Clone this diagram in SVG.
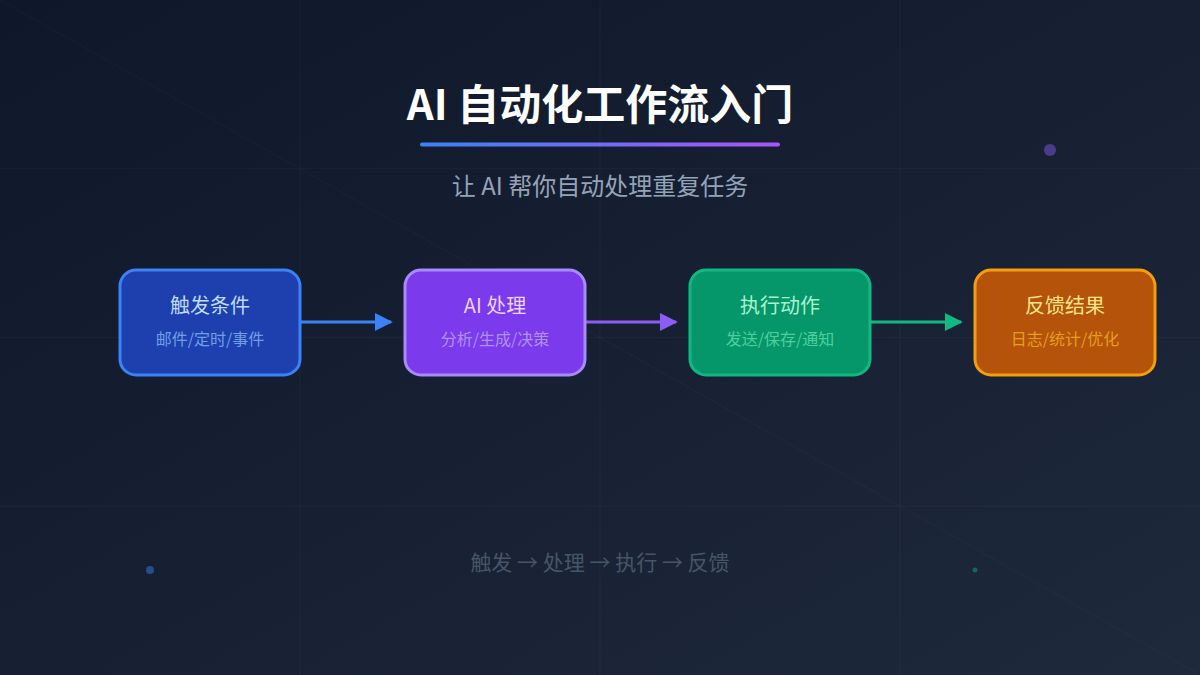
<svg xmlns="http://www.w3.org/2000/svg" width="1200" height="675" viewBox="0 0 1200 675">
  <defs>
    <linearGradient id="bg" x1="0" y1="0" x2="1" y2="1">
      <stop offset="0" stop-color="#0f172a"/>
      <stop offset="1" stop-color="#1e293b"/>
    </linearGradient>
    <linearGradient id="bar" x1="0" y1="0" x2="1" y2="0">
      <stop offset="0" stop-color="#3b82f6"/>
      <stop offset="1" stop-color="#a855f7"/>
    </linearGradient>
    <marker id="ah-blue" viewBox="0 0 10 10" refX="9" refY="5" markerWidth="6" markerHeight="6.4" orient="auto" markerUnits="strokeWidth">
      <path d="M0,0 L10,5 L0,10 Z" fill="#3b82f6"/>
    </marker>
    <marker id="ah-purple" viewBox="0 0 10 10" refX="9" refY="5" markerWidth="6" markerHeight="6.4" orient="auto" markerUnits="strokeWidth">
      <path d="M0,0 L10,5 L0,10 Z" fill="#8b5cf6"/>
    </marker>
    <marker id="ah-green" viewBox="0 0 10 10" refX="9" refY="5" markerWidth="6" markerHeight="6.4" orient="auto" markerUnits="strokeWidth">
      <path d="M0,0 L10,5 L0,10 Z" fill="#10b981"/>
    </marker>
  </defs>
  <style>
    text { font-family: "Noto Sans CJK SC", "Noto Sans", sans-serif; text-anchor: middle; }
    .grid { stroke: #ffffff; stroke-opacity: 0.03; stroke-width: 1; }
    .title { font-size: 42px; font-weight: 700; fill: #ffffff; }
    .subtitle { font-size: 24px; fill: #94a3b8; }
    .ntitle { font-size: 20px; }
    .nsub { font-size: 16px; opacity: 0.7; }
    .box { stroke-width: 3; }
    .conn { stroke-width: 3; fill: none; }
    .foot { font-size: 21px; fill: #475569; }
  </style>
  <rect x="0" y="0" width="1200" height="675" fill="url(#bg)"/>
  <g id="grid">
    <line class="grid" x1="300" y1="0" x2="300" y2="675"/>
    <line class="grid" x1="600" y1="0" x2="600" y2="675"/>
    <line class="grid" x1="900" y1="0" x2="900" y2="675"/>
    <line class="grid" x1="0" y1="168.75" x2="1200" y2="168.75"/>
    <line class="grid" x1="0" y1="337.5" x2="1200" y2="337.5"/>
    <line class="grid" x1="0" y1="506.25" x2="1200" y2="506.25"/>
    <line class="grid" x1="0" y1="0" x2="1200" y2="675" stroke-opacity="0.05"/>
  </g>
  <g id="dots">
    <circle cx="1050" cy="150" r="6" fill="#8b5cf6" opacity="0.45"/>
    <circle cx="150" cy="570" r="4" fill="#3b82f6" opacity="0.45"/>
    <circle cx="975" cy="570" r="2.5" fill="#10b981" opacity="0.45"/>
  </g>
  <g id="header">
    <text class="title" x="600" y="120">AI 自动化工作流入门</text>
    <rect x="420" y="142.5" width="360" height="4" rx="2" fill="url(#bar)"/>
    <text class="subtitle" x="600" y="195">让 AI 帮你自动处理重复任务</text>
  </g>
  <g id="connectors">
    <line class="conn" x1="301" y1="322" x2="391" y2="322" stroke="#3b82f6" marker-end="url(#ah-blue)"/>
    <line class="conn" x1="586" y1="322" x2="676" y2="322" stroke="#8b5cf6" marker-end="url(#ah-purple)"/>
    <line class="conn" x1="871" y1="322" x2="961" y2="322" stroke="#10b981" marker-end="url(#ah-green)"/>
  </g>
  <g id="node-trigger">
    <rect class="box" x="120" y="270" width="180" height="105" rx="16" fill="#1e40af" stroke="#3b82f6"/>
    <text class="ntitle" x="210" y="313" fill="#bfdbfe">触发条件</text>
    <text class="nsub" x="210" y="345" fill="#93c5fd">邮件/定时/事件</text>
  </g>
  <g id="node-ai">
    <rect class="box" x="405" y="270" width="180" height="105" rx="16" fill="#7c3aed" stroke="#a78bfa"/>
    <text class="ntitle" x="495" y="313" fill="#e9d5ff">AI 处理</text>
    <text class="nsub" x="495" y="345" fill="#c4b5fd">分析/生成/决策</text>
  </g>
  <g id="node-action">
    <rect class="box" x="690" y="270" width="180" height="105" rx="16" fill="#059669" stroke="#10b981"/>
    <text class="ntitle" x="780" y="313" fill="#a7f3d0">执行动作</text>
    <text class="nsub" x="780" y="345" fill="#6ee7b7">发送/保存/通知</text>
  </g>
  <g id="node-feedback">
    <rect class="box" x="975" y="270" width="180" height="105" rx="16" fill="#b45309" stroke="#f59e0b"/>
    <text class="ntitle" x="1065" y="313" fill="#fde68a">反馈结果</text>
    <text class="nsub" x="1065" y="345" fill="#fbbf24">日志/统计/优化</text>
  </g>
  <g id="footer">
    <text class="foot" x="600" y="570">触发 → 处理 → 执行 → 反馈</text>
  </g>
</svg>
